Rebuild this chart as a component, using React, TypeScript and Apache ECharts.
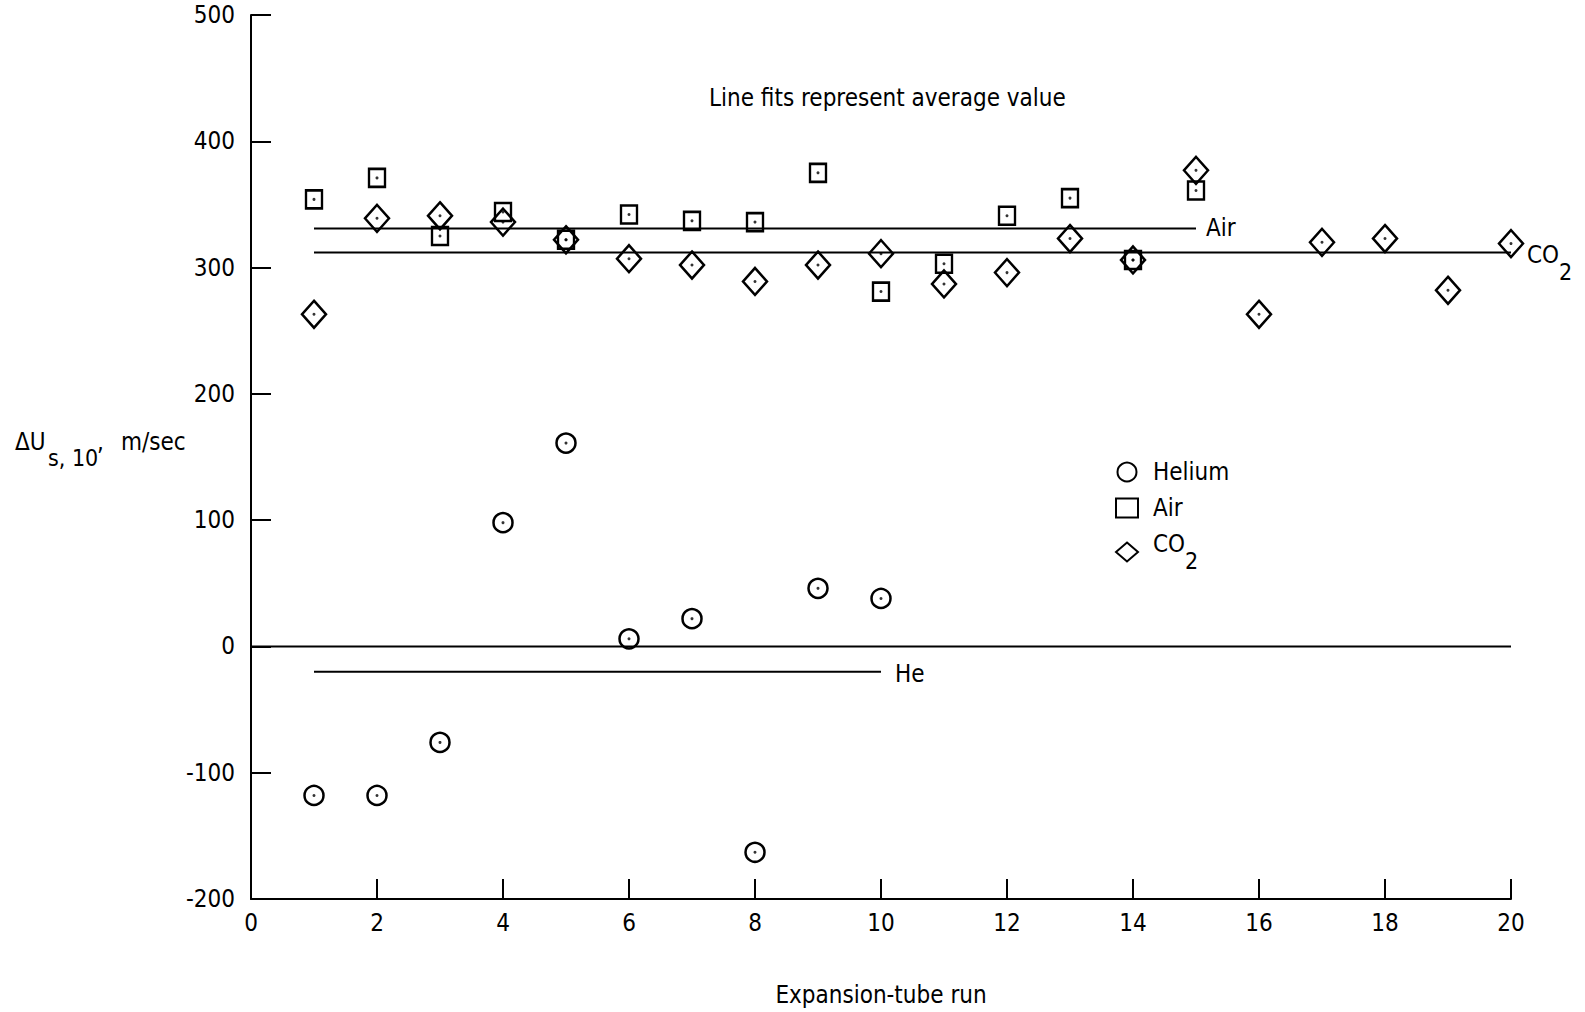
import React, { useEffect, useRef } from "react";
import * as echarts from "echarts";

// ---- data ----
const heliumRuns = [1, 2, 3, 4, 5, 6, 7, 8, 9, 10];
const heliumValues = [-118, -118, -76, 98, 161, 6, 22, -163, 46, 38];

const airRuns = [1, 2, 3, 4, 5, 6, 7, 8, 9, 10, 11, 12, 13, 14, 15];
const airValues = [354, 371, 325, 344, 322, 342, 337, 336, 375, 281, 303, 341, 355, 306, 361];

const co2Runs = [1, 2, 3, 4, 5, 6, 7, 8, 9, 10, 11, 12, 13, 14, 15, 16, 17, 18, 19, 20];
const co2Values = [263, 339, 341, 336, 322, 307, 302, 289, 302, 311, 287, 296, 323, 306, 377, 263, 320, 323, 282, 319];

// average-value line fits: [startRun, endRun, value]
const heFit = [1, 10, -20];
const airFit = [1, 15, 331];
const co2Fit = [1, 20, 312];
const zeroLine = [0, 20, 0];

const xMin = 0, xMax = 20, xStep = 2;
const yMin = -200, yMax = 500, yStep = 100;

const FONT = "'Liberation Sans Narrow', 'DejaVu Sans Condensed', 'Open Sans', sans-serif";

const pairs = (xs: number[], ys: number[]) => xs.map((x, i) => [x, ys[i]]);
const fitData = (f: number[]) => [[f[0], f[2]], [f[1], f[2]]];

const subRich = {
  n: { fontSize: 24, fontFamily: FONT, color: "#000", lineHeight: 24, verticalAlign: "top" },
  sub: { fontSize: 23, fontFamily: FONT, color: "#000", lineHeight: 40, verticalAlign: "bottom" },
};

export default function App() {
  const ref = useRef<HTMLDivElement>(null);
  useEffect(() => {
    if (!ref.current) return;
    const chart = echarts.init(ref.current, undefined, { renderer: "svg" });
    const markerStyle = { color: "rgba(255,255,255,0)", borderColor: "#000", borderWidth: 2.5, opacity: 1 };
    const fitLine = (name: string, f: number[], label: any) => ({
      type: "line",
      name,
      data: fitData(f),
      showSymbol: false,
      symbol: "none",
      lineStyle: { color: "#000", width: 2 },
      silent: true,
      z: 1,
      endLabel: label,
    });
    const allPoints = [
      ...pairs(heliumRuns, heliumValues),
      ...pairs(airRuns, airValues),
      ...pairs(co2Runs, co2Values),
    ];
    chart.setOption({
      animation: false,
      backgroundColor: "#fff",
      textStyle: { fontFamily: FONT, color: "#000" },
      grid: { left: 251, right: 74, top: 15, bottom: 113, containLabel: false },
      xAxis: {
        type: "value",
        min: xMin,
        max: xMax,
        interval: xStep,
        name: "Expansion-tube run",
        nameLocation: "middle",
        nameGap: 84,
        nameTextStyle: { fontSize: 24, fontFamily: FONT, color: "#000" },
        axisLine: { show: true, onZero: false, lineStyle: { color: "#000", width: 2 } },
        axisTick: { show: true, inside: true, length: 20, lineStyle: { color: "#000", width: 2 } },
        axisLabel: { fontSize: 24, fontFamily: FONT, color: "#000", margin: 12 },
        splitLine: { show: false },
      },
      yAxis: {
        type: "value",
        min: yMin,
        max: yMax,
        interval: yStep,
        axisLine: { show: true, onZero: false, lineStyle: { color: "#000", width: 2 } },
        axisTick: { show: true, inside: true, length: 20, lineStyle: { color: "#000", width: 2 } },
        axisLabel: { fontSize: 24, fontFamily: FONT, color: "#000", margin: 16 },
        splitLine: { show: false },
      },
      legend: {
        orient: "vertical",
        left: 1110,
        top: 455,
        itemWidth: 22,
        itemHeight: 19,
        itemGap: 12,
        data: ["Helium", "Air", "CO2"],
        formatter: (name: string) => (name === "CO2" ? "{n|CO}{sub|2}" : name),
        textStyle: { fontSize: 24, fontFamily: FONT, color: "#000", padding: [0, 0, 0, 10], rich: subRich },
        selectedMode: false,
      },
      graphic: [
        {
          type: "text",
          left: 709,
          top: 86,
          style: { text: "Line fits represent average value", fontSize: 24, fontFamily: FONT, fill: "#000" },
        },
        { type: "text", x: 15, y: 442, style: { text: "\u0394U", fontSize: 24, fontFamily: FONT, fill: "#000", verticalAlign: "middle" } },
        { type: "text", x: 48, y: 458, style: { text: "s, 10", fontSize: 23, fontFamily: FONT, fill: "#000", verticalAlign: "middle" } },
        { type: "text", x: 97, y: 442, style: { text: ",", fontSize: 24, fontFamily: FONT, fill: "#000", verticalAlign: "middle" } },
        { type: "text", x: 121, y: 442, style: { text: "m/sec", fontSize: 24, fontFamily: FONT, fill: "#000", verticalAlign: "middle" } },
      ],
      series: [
        fitLine("zero", zeroLine, { show: false }),
        fitLine("heFit", heFit, { show: true, formatter: "He", distance: 14, fontSize: 24, fontFamily: FONT, color: "#000", offset: [0, 2] }),
        fitLine("airFit", airFit, { show: true, formatter: "Air", distance: 10, fontSize: 24, fontFamily: FONT, color: "#000", offset: [0, 0] }),
        fitLine("co2Fit", co2Fit, { show: true, formatter: "{n|CO}{sub|2}", distance: 16, rich: subRich, offset: [0, 11] }),
        {
          type: "scatter",
          name: "Helium",
          data: pairs(heliumRuns, heliumValues),
          symbol: "circle",
          symbolSize: 19,
          itemStyle: markerStyle,
          z: 3,
        },
        {
          type: "scatter",
          name: "Air",
          data: pairs(airRuns, airValues),
          symbol: "rect",
          symbolSize: [16, 18],
          itemStyle: markerStyle,
          z: 3,
        },
        {
          type: "scatter",
          name: "CO2",
          data: pairs(co2Runs, co2Values),
          symbol: "diamond",
          symbolSize: [24, 27],
          itemStyle: markerStyle,
          z: 3,
        },
        {
          type: "scatter",
          name: "centers",
          data: allPoints,
          symbol: "circle",
          symbolSize: 3,
          itemStyle: { color: "#000" },
          silent: true,
          z: 4,
        },
      ],
    });
    return () => chart.dispose();
  }, []);
  return (
    <div
      ref={ref}
      style={{ position: "fixed", left: 0, top: 0, width: 1585, height: 1012, background: "#fff" }}
    />
  );
}
